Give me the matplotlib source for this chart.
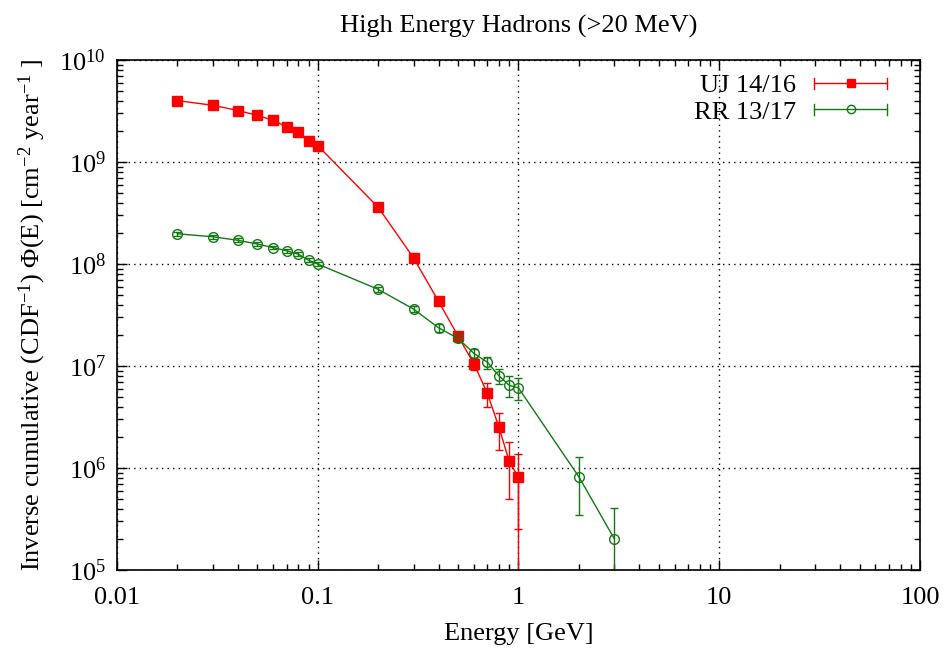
import numpy as np
import matplotlib
matplotlib.use('Agg')
from matplotlib import pyplot as plt
from matplotlib.lines import Line2D
from matplotlib.legend_handler import HandlerBase
from matplotlib.ticker import LogLocator, NullFormatter, FixedLocator, FixedFormatter

plt.rcParams['font.family'] = ['Liberation Serif', 'DejaVu Serif']
plt.rcParams['mathtext.fontset'] = 'custom'
plt.rcParams['mathtext.rm'] = 'Liberation Serif'
plt.rcParams['mathtext.it'] = 'Liberation Serif:italic'

# data (energy in GeV, flux in cm^-2 year^-1)
uj_energy = [0.02, 0.03, 0.04, 0.05, 0.06, 0.07, 0.08, 0.09, 0.1,
             0.2, 0.3, 0.4, 0.5, 0.6, 0.7, 0.8, 0.9, 1.0, 1.0]
uj_flux = [4.0e9, 3.6e9, 3.2e9, 2.87e9, 2.56e9, 2.22e9, 1.95e9, 1.62e9, 1.45e9,
           3.6e8, 1.15e8, 4.3e7, 1.97e7, 1.05e7, 5.4e6, 2.5e6, 1.16e6, 8.1e5, 1e3]
uj_err = [4e7, 3.5e7, 3e7, 2.8e7, 2.5e7, 2.2e7, 2e7, 1.7e7, 1.5e7,
          5e6, 2.5e6, 1.5e6, 1.2e6, 1.3e6, 1.4e6, 1.0e6, 6.6e5, 5.6e5, 0]

rr_energy = [0.02, 0.03, 0.04, 0.05, 0.06, 0.07, 0.08, 0.09, 0.1,
             0.2, 0.3, 0.4, 0.5, 0.6, 0.7, 0.8, 0.9, 1.0, 2.0, 3.0]
rr_flux = [1.98e8, 1.85e8, 1.71e8, 1.57e8, 1.45e8, 1.35e8, 1.25e8, 1.09e8, 1.0e8,
           5.65e7, 3.62e7, 2.37e7, 1.87e7, 1.33e7, 1.09e7, 8.0e6, 6.47e6, 6.1e6, 8.2e5, 2.03e5]
rr_err = [8e6, 7.5e6, 7e6, 6.5e6, 6e6, 5.5e6, 5e6, 4.5e6, 4e6,
          3e6, 2.5e6, 2.2e6, 1.5e6, 1.35e6, 1.5e6, 1.3e6, 1.45e6, 1.45e6, 4.7e5, 2.0e5]

red = '#ff0000'
green = '#137a13'
fs = 19


class GnuplotErrHandler(HandlerBase):
    # horizontal sample line with end caps and a marker in the middle
    def create_artists(self, legend, orig, xd, yd, width, height, fontsize, trans):
        y = height / 2 - yd
        x0, x1 = -xd, -xd + width
        c = orig.get_color()
        art = [Line2D([x0, x1], [y, y], color=c, lw=1)]
        for x in (x0, x1):
            art.append(Line2D([x, x], [y - 4, y + 4], color=c, lw=1))
        art.append(Line2D([(x0 + x1) / 2], [y], marker=orig.get_marker(), ms=orig.get_markersize(),
                          mfc=orig.get_markerfacecolor(), mec=orig.get_markeredgecolor(), lw=0))
        for a in art:
            a.set_transform(trans)
        return art


fig = plt.figure(figsize=(9.45, 6.56), dpi=100)
ax = fig.add_axes([0.1238, 0.131, 0.8497, 0.7775])

ax.errorbar(uj_energy, uj_flux, yerr=uj_err, color=red, marker='s', ms=7.5,
            mfc=red, mec=red, lw=1.0, elinewidth=1.0, capsize=3)
ax.errorbar(rr_energy, rr_flux, yerr=rr_err, color=green, marker='o', ms=7,
            mfc='none', mec=green, mew=1.0, lw=1.0, elinewidth=1.0, capsize=3)

ax.set_xscale('log')
ax.set_yscale('log', nonpositive='clip')
ax.set_xlim(0.01, 100)
ax.set_ylim(1e5, 1e10)

xt = [0.01, 0.1, 1, 10, 100]
ax.xaxis.set_major_locator(FixedLocator(xt))
ax.xaxis.set_major_formatter(FixedFormatter(['0.01', '0.1', '1', '10', '100']))
ax.xaxis.set_minor_locator(LogLocator(base=10, subs=np.arange(2, 10), numticks=20))
ax.xaxis.set_minor_formatter(NullFormatter())
ax.yaxis.set_major_locator(LogLocator(base=10, numticks=10))
ax.yaxis.set_minor_locator(LogLocator(base=10, subs=np.arange(2, 10), numticks=20))
ax.yaxis.set_minor_formatter(NullFormatter())

ax.tick_params(which='both', direction='in', top=True, right=True, labelsize=fs)
ax.tick_params(which='major', length=7, width=1)
ax.tick_params(which='minor', length=4, width=1)
ax.tick_params(axis='x', which='major', pad=12)
ax.tick_params(axis='y', which='major', pad=8)
for s in ax.spines.values():
    s.set_linewidth(1.2)

ax.grid(True, which='major', color='black', linestyle=(0, (1, 3)), linewidth=1)

ax.set_xlabel('Energy [GeV]', fontsize=fs, labelpad=10)
ax.set_ylabel(r'Inverse cumulative (CDF$^{-1}$) Φ(E) [cm$^{-2}$ year$^{-1}$ ]', fontsize=fs, labelpad=8)
ax.set_title('High Energy Hadrons (>20 MeV)', fontsize=fs, pad=20)

h_uj = Line2D([], [], color=red, marker='s', ms=6, mfc=red, mec=red)
h_rr = Line2D([], [], color=green, marker='o', ms=6, mfc='none', mec=green)
ax.legend([h_uj, h_rr], ['UJ 14/16', 'RR 13/17'], loc='upper right',
          bbox_to_anchor=(0.985, 1.014), frameon=False,
          markerfirst=False, fontsize=fs, handlelength=2.75, handletextpad=0.7,
          labelspacing=0.1, borderaxespad=0.5, borderpad=0.3,
          handler_map={Line2D: GnuplotErrHandler()})

plt.savefig('out.png', dpi=100)
